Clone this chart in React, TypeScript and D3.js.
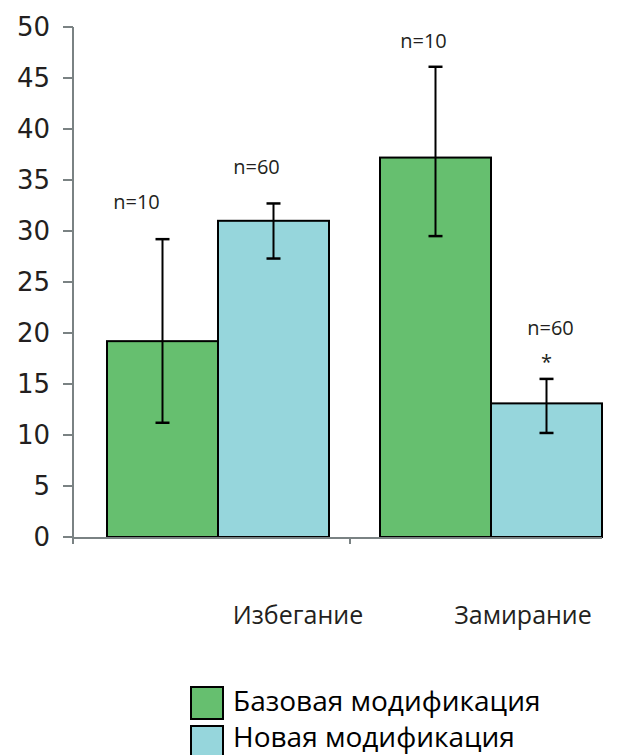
import React from 'react';
import * as d3 from 'd3';

// chart values
const categories = ['Избегание', 'Замирание'];
const seriesNames = ['Базовая модификация', 'Новая модификация'];
const baseValues = [19.2, 37.2];
const newValues = [31.0, 13.1];
const baseErrLow = [11.2, 29.5];
const baseErrHigh = [29.2, 46.1];
const newErrLow = [27.3, 10.2];
const newErrHigh = [32.7, 15.5];
const baseN = ['n=10', 'n=10'];
const newN = ['n=60', 'n=60'];
const newMark = ['', '*'];
const yTicks = [0, 5, 10, 15, 20, 25, 30, 35, 40, 45, 50];

const colors = ['#66bf6f', '#96d6dc'];
const axisColor = '#7a8283';
const textFont = '"Open Sans", "Noto Sans", sans-serif';
const tickFont = '"DejaVu Sans", Verdana, sans-serif';

export default function App() {
  const width = 619;
  const height = 755;
  const left = 73;
  const yTop = 27;
  const yBottom = 537;

  const x = d3.scaleBand<string>()
    .domain(categories)
    .range([left, left + 2 * 273]);
  // bars sit inside each category band
  const inner = d3.scaleBand<number>()
    .domain([0, 1])
    .range([34, 256]);
  const y = d3.scaleLinear().domain([0, 50]).range([yBottom, yTop]);

  const series = [
    { values: baseValues, lo: baseErrLow, hi: baseErrHigh, n: baseN, mark: ['', ''] },
    { values: newValues, lo: newErrLow, hi: newErrHigh, n: newN, mark: newMark },
  ];

  // label nudges, per category / per series
  const labelDx = [[-26, -17], [-12, 4]];
  const labelDy = [[-30, -29], [-19, -44]];
  const catLabelX = [298, 523];
  const bw = inner.bandwidth();

  return (
    <svg width={width} height={height} style={{ position: 'absolute', left: 0, top: 0 }}>
      <rect width={width} height={height} fill="#fff" />
      {/* bars */}
      {series.map((s, si) => (
        <g key={'s' + si}>
          {categories.map((c, ci) => (
            <rect key={c} x={(x(c) as number) + (inner(si) as number)} y={y(s.values[ci])} width={bw}
              height={yBottom - y(s.values[ci])}
              fill={colors[si]} stroke="#000" strokeWidth={2} />
          ))}
        </g>
      ))}
      {/* axes */}
      <line x1={left} x2={left} y1={yTop} y2={yBottom} stroke={axisColor} strokeWidth={2} />
      <line x1={left} x2={602} y1={yBottom + 1} y2={yBottom + 1} stroke={axisColor} strokeWidth={2} />
      {yTicks.map(t => (
        <g key={t}>
          <line x1={63} x2={left} y1={y(t)} y2={y(t)} stroke={axisColor} strokeWidth={2} />
          <text x={50} y={y(t)} dy="0.36em" textAnchor="end" fontFamily={tickFont} fontSize={26} fill="#231f20">{t}</text>
        </g>
      ))}
      {[left, 350].map((tx, i) => (
        <line key={i} x1={tx} x2={tx} y1={yBottom} y2={yBottom + 7} stroke={axisColor} strokeWidth={2} />
      ))}
      {/* error bars and labels */}
      {series.map((s, si) => (
        <g key={'e' + si}>
          {categories.map((c, ci) => {
            const cx = (x(c) as number) + (inner(si) as number) + bw / 2;
            const top = y(s.hi[ci]);
            const bot = y(s.lo[ci]);
            return (
              <g key={c}>
                <line x1={cx} x2={cx} y1={top} y2={bot} stroke="#000" strokeWidth={2} />
                <line x1={cx - 7} x2={cx + 7} y1={top} y2={top} stroke="#000" strokeWidth={2.5} />
                <line x1={cx - 7} x2={cx + 7} y1={bot} y2={bot} stroke="#000" strokeWidth={2.5} />
                <text x={cx + labelDx[ci][si]} y={top + labelDy[ci][si]} textAnchor="middle"
                  fontFamily={textFont} fontSize={20} fill="#231f20">{s.n[ci]}</text>
                {s.mark[ci] && (
                  <text x={cx} y={top - 10} textAnchor="middle" fontFamily={textFont} fontSize={20} fill="#231f20">{s.mark[ci]}</text>
                )}
              </g>
            );
          })}
        </g>
      ))}
      {/* category labels */}
      {categories.map((c, ci) => (
        <text key={c} x={catLabelX[ci]} y={624} textAnchor="middle" fontFamily={textFont} fontSize={25} fill="#231f20">{c}</text>
      ))}
      {/* legend */}
      {seriesNames.map((n, i) => (
        <g key={n}>
          <rect x={191} y={687 + i * 39} width={32} height={32} fill={colors[i]} stroke="#000" strokeWidth={2} />
          <text x={233} y={711 + i * 36} fontFamily={textFont} fontSize={28} fill="#000">{n}</text>
        </g>
      ))}
    </svg>
  );
}
